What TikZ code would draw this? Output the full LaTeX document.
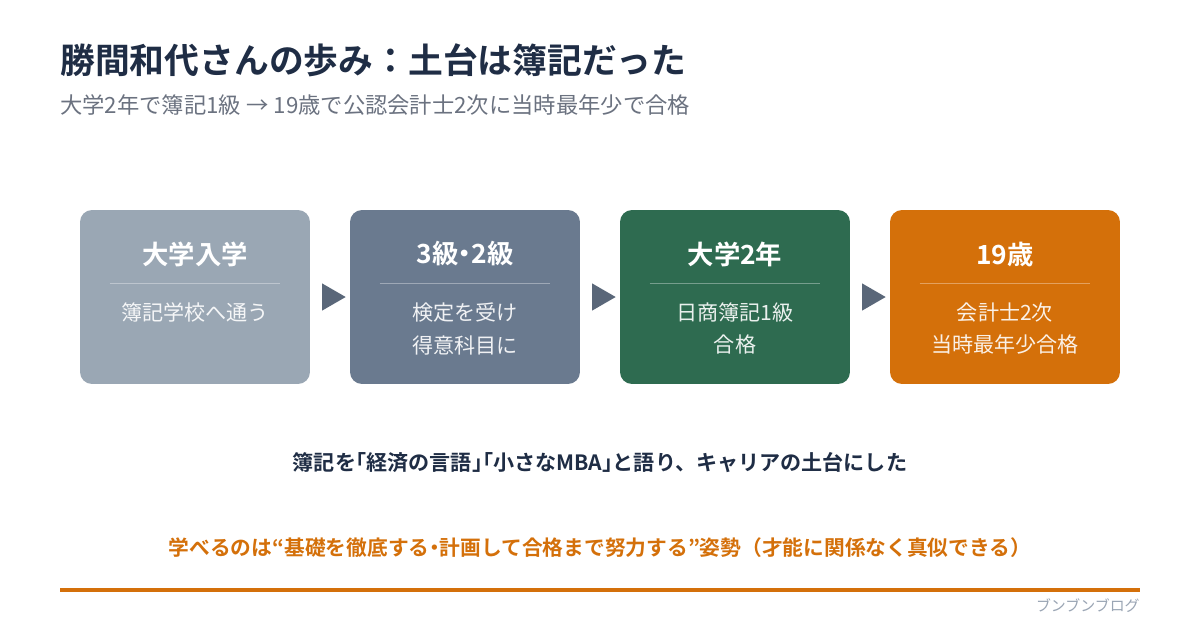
\documentclass[tikz,border=0pt]{standalone}
\usepackage{fontspec}
\setmainfont{Noto Sans CJK JP}[BoldFont={Noto Sans CJK JP Bold}]
\newfontfamily\halfpunct{Noto Sans CJK JP}[RawFeature=+halt, BoldFont={Noto Sans CJK JP Bold}]
\newcommand{\hp}[1]{{\halfpunct #1}}
\usepackage{tikz}
\usetikzlibrary{shapes.geometric, positioning, calc}
\definecolor{titlenavy}{HTML}{1F2D45}
\definecolor{subgray}{HTML}{6B7280}
\definecolor{stepgray}{HTML}{9AA7B4}
\definecolor{stepslate}{HTML}{6A7A8F}
\definecolor{stepgreen}{HTML}{2E6B50}
\definecolor{steporange}{HTML}{D4700A}
\definecolor{arrowslate}{HTML}{5A6779}
\definecolor{footgray}{HTML}{9AA5B4}

\begin{document}
\begin{tikzpicture}[x=0.02cm, y=-0.02cm,
  stepbox/.style={rectangle, rounded corners=0.24cm, draw=none,
              minimum width=4.6cm, minimum height=3.48cm, inner sep=0pt},
  head/.style={font=\fontsize{15}{18}\selectfont\bfseries, text=white, inner sep=0pt},
  detail/.style={font=\fontsize{12}{18.7}\selectfont, text=white, text opacity=0.9,
              align=center, anchor=north, inner sep=0pt},
  divider/.style={draw=white, draw opacity=0.35, line width=0.9pt},
  tri/.style={isosceles triangle, isosceles triangle apex angle=60, fill=arrowslate,
              draw=none, minimum height=0.47cm, minimum width=0.54cm, inner sep=0pt},
]
% canvas
\useasboundingbox[fill=white] (0,0) rectangle (1200,630);

% heading
\node[font=\fontsize{19.8}{24}\selectfont\bfseries, text=titlenavy, anchor=west, inner sep=0pt]
  (title) at (60,60) {勝間和代さんの歩み：土台は簿記だった};
\node[font=\fontsize{12.7}{15}\selectfont, text=subgray, anchor=west, inner sep=0pt]
  (subtitle) at (60,105) {大学2年で簿記1級 → 19歳で公認会計士2次に当時最年少で合格};

% steps
\node[stepbox, fill=stepgray]   (b1) at (195,297) {};
\node[stepbox, fill=stepslate]  (b2) at (465,297) {};
\node[stepbox, fill=stepgreen]  (b3) at (735,297) {};
\node[stepbox, fill=steporange] (b4) at (1005,297) {};

\node[head] (h1) at (195,254) {大学入学};
\node[head] (h2) at (465,254) {3級\hp{・}2級};
\node[head] (h3) at (735,254) {大学2年};
\node[head] (h4) at (1005,254) {19歳};

\draw[divider] ($(b1.north west)+(30,74)$) -- ($(b1.north east)+(-30,74)$);
\draw[divider] ($(b2.north west)+(30,74)$) -- ($(b2.north east)+(-30,74)$);
\draw[divider] ($(b3.north west)+(30,74)$) -- ($(b3.north east)+(-30,74)$);
\draw[divider] ($(b4.north west)+(30,74)$) -- ($(b4.north east)+(-30,74)$);

\node[detail] (d1) at (195,302) {簿記学校へ通う};
\node[detail] (d2) at (465,302) {検定を受け\\得意科目に};
\node[detail] (d3) at (735,302) {日商簿記1級\\合格};
\node[detail] (d4) at (1005,302) {会計士2次\\当時最年少合格};

% arrows between steps
\node[tri] (a1) at ($(b1.east)!0.5!(b2.west)$) {};
\node[tri] (a2) at ($(b2.east)!0.5!(b3.west)$) {};
\node[tri] (a3) at ($(b3.east)!0.5!(b4.west)$) {};

% messages
\node[font=\fontsize{12}{14}\selectfont\bfseries, text=titlenavy, inner sep=0pt]
  (quote) at (600,463) {簿記を\hp{「}経済の言語\hp{」「}小さなMBA\hp{」}と語り、キャリアの土台にした};
\node[font=\fontsize{11.8}{14}\selectfont\bfseries, text=steporange, inner sep=0pt]
  (lesson) at (600,548) {学べるのは\hp{“}基礎を徹底する\hp{・}計画して合格まで努力する\hp{”}姿勢（才能に関係なく真似できる）};

% footer
\coordinate (ruleL) at (60,590);
\coordinate (ruleR) at (1140,590);
\draw[steporange, line width=2.8pt] (ruleL) -- (ruleR);
\node[font=\fontsize{8.5}{10}\selectfont, text=footgray, anchor=east, inner sep=0pt]
  (blog) at (1140,606) {ブンブンブログ};
\end{tikzpicture}
\end{document}
